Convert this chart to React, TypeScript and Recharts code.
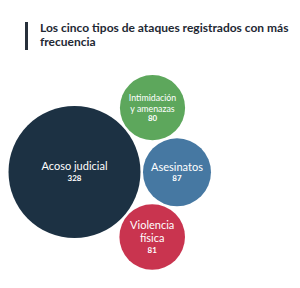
import { ScatterChart, Scatter, XAxis, YAxis, ZAxis } from 'recharts';

// ---------------------------------------------------------------------------
// Data
// ---------------------------------------------------------------------------

const TYPES = ['Acoso judicial', 'Intimidación y amenazas', 'Asesinatos', 'Violencia física'];
const LABEL_LINES = [['Acoso judicial'], ['Intimidación', 'y amenazas'], ['Asesinatos'], ['Violencia', 'física']];
const COUNTS = [328, 80, 87, 81];
const COLORS = ['#1c3143', '#5da75c', '#4678a2', '#c9344f'];

const TITLE_LINES = ['Los cinco tipos de ataques registrados con más', 'frecuencia'];

// ---------------------------------------------------------------------------
// Layout (simple front-chain packing around the largest bubble)
// ---------------------------------------------------------------------------

const W = 300;
const H = 288;
const R_MAX = 66;
const PAD = 2.5;
const START_ANGLE = (-39.5 * Math.PI) / 180;
const ANCHOR = { x: 74.5, y: 172 };

const maxCount = Math.max(...COUNTS);
const radius = (v: number) => R_MAX * Math.sqrt(v / maxCount);

type Pt = { x: number; y: number; r: number };

function tangentTo(a: Pt, b: Pt, r: number): Pt {
  const dx = b.x - a.x;
  const dy = b.y - a.y;
  const d = Math.hypot(dx, dy);
  const da = a.r + r + PAD;
  const db = b.r + r + PAD;
  const along = (da * da - db * db + d * d) / (2 * d);
  const h = Math.sqrt(Math.max(da * da - along * along, 0));
  const ux = dx / d;
  const uy = dy / d;
  return { x: a.x + along * ux - h * uy, y: a.y + along * uy + h * ux, r };
}

function pack(values: number[]): Pt[] {
  const out: Pt[] = [];
  values.forEach((v, i) => {
    const r = radius(v);
    if (i === 0) out.push({ x: ANCHOR.x, y: ANCHOR.y, r });
    else if (i === 1) {
      const d = out[0].r + r + PAD;
      out.push({ x: out[0].x + d * Math.cos(START_ANGLE), y: out[0].y + d * Math.sin(START_ANGLE), r });
    } else out.push(tangentTo(out[0], out[i - 1], r));
  });
  return out;
}

const placed = pack(COUNTS);
const chartData = TYPES.map((name, i) => ({
  name,
  x: placed[i].x,
  y: placed[i].y,
  z: COUNTS[i],
  lines: LABEL_LINES[i],
  color: COLORS[i],
}));

// ---------------------------------------------------------------------------
// Bubble shape
// ---------------------------------------------------------------------------

const FONT = 'Lato, "Open Sans", sans-serif';

function Bubble(props: any) {
  const { cx, cy, payload } = props;
  const r = props.size ? Math.sqrt(props.size / Math.PI) : radius(payload.z);
  const lines: string[] = payload.lines;
  const longest = Math.max(...lines.map((l) => l.length));
  const f = Math.min(11, (r * 1.62) / (longest * 0.5));
  const vf = Math.min(8, f * 0.9);
  const ys = lines.map((_, i) => i * f * 1.2);
  const valueY = ys[ys.length - 1] + f * 1.12;
  const shift = valueY / 2;
  return (
    <g>
      <circle cx={cx} cy={cy} r={r} fill={payload.color} />
      {lines.map((l, i) => (
        <text
          key={l}
          x={cx}
          y={cy + ys[i] - shift}
          textAnchor="middle"
          dominantBaseline="central"
          fill="#fff"
          fontSize={f}
          fontFamily={FONT}
        >
          {l}
        </text>
      ))}
      <text
        x={cx}
        y={cy + valueY - shift}
        textAnchor="middle"
        dominantBaseline="central"
        fill="#fff"
        fontSize={vf}
        fontWeight={700}
        fontFamily={FONT}
      >
        {payload.z}
      </text>
    </g>
  );
}

// ---------------------------------------------------------------------------
// App
// ---------------------------------------------------------------------------

export default function App() {
  return (
    <div style={{ position: 'relative', width: W, height: H, background: '#fff', overflow: 'hidden' }}>
      <style>{'body{margin:0}'}</style>
      <div style={{ position: 'absolute', left: 25, top: 22, width: 2.5, height: 28, background: '#27303b' }} />
      <div
        style={{
          position: 'absolute',
          left: 40,
          top: 21,
          fontFamily: FONT,
          fontWeight: 700,
          fontSize: 12,
          lineHeight: '14px',
          color: '#1e2833',
          whiteSpace: 'nowrap',
        }}
      >
        {TITLE_LINES.map((t) => (
          <div key={t}>{t}</div>
        ))}
      </div>
      <div style={{ position: 'absolute', left: 0, top: 0 }}>
        <ScatterChart width={W} height={H} margin={{ top: 0, right: 0, bottom: 0, left: 0 }}>
          <XAxis type="number" dataKey="x" domain={[0, W]} hide />
          <YAxis type="number" dataKey="y" domain={[0, H]} reversed hide />
          <ZAxis type="number" dataKey="z" domain={[0, maxCount]} range={[0, Math.PI * R_MAX * R_MAX]} />
          <Scatter data={chartData} shape={<Bubble />} isAnimationActive={false} />
        </ScatterChart>
      </div>
    </div>
  );
}
